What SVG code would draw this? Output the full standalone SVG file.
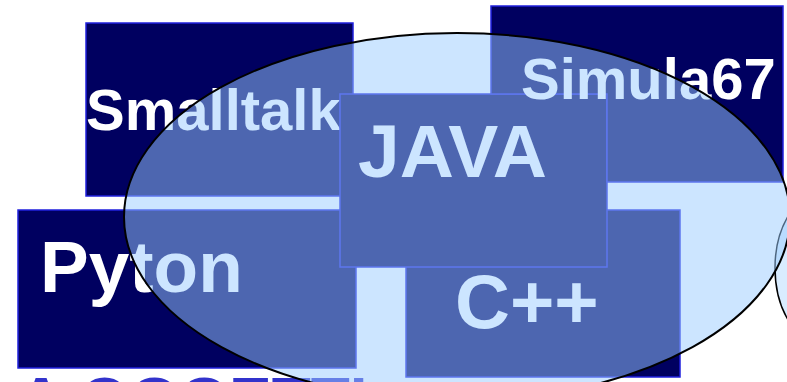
<svg xmlns="http://www.w3.org/2000/svg" width="787" height="382" viewBox="0 0 787 382">
<style>
.box{fill:#000060;stroke:#2020dd;stroke-width:1.5}
.lbl{fill:#ffffff;font-family:"Liberation Sans",Arial,sans-serif;font-weight:bold}
.big{font-size:73px}
.mid{font-size:58px}
</style>
<rect width="787" height="382" fill="#ffffff"/>
<text x="18" y="423" fill="#3333cc" font-family="Liberation Sans, Arial, sans-serif" font-weight="bold" font-size="64">A OGGETTI</text>
<g id="smalltalk">
<rect class="box" x="86" y="23" width="267" height="173"/>
<text class="lbl mid" x="86" y="130">Smalltalk</text>
</g>
<g id="pyton">
<rect class="box" x="18" y="210" width="338" height="158"/>
<text class="lbl big" x="40" y="292">Pyton</text>
</g>
<g id="cpp">
<rect class="box" x="406" y="210" width="274" height="167"/>
<text class="lbl" x="455" y="328" font-size="76">C++</text>
</g>
<g id="java">
<rect class="box" x="340" y="94" width="267" height="173"/>
<text class="lbl" x="358" y="177" font-size="75">JAVA</text>
</g>
<g id="simula67">
<path class="box" d="M491 6H783V182H607V94H491Z"/>
<text class="lbl mid" x="521" y="99">Simula67</text>
</g>
<g id="connectors"></g>
<ellipse cx="825" cy="268" rx="50" ry="77" fill="#d9ecff" stroke="#000000" stroke-width="1.5"/>
<ellipse cx="457" cy="217" rx="333" ry="184" fill="#99ccff" fill-opacity="0.5" stroke="#000000" stroke-width="2"/>
</svg>
